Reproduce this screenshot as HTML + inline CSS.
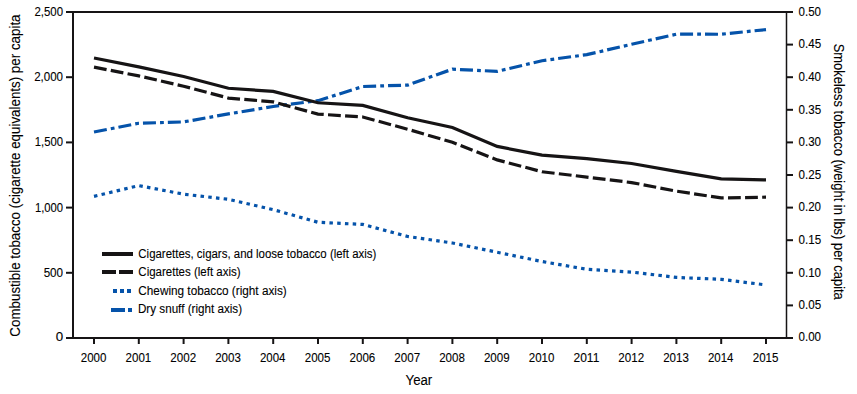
<!DOCTYPE html>
<html><head><meta charset="utf-8"><style>
html,body{margin:0;padding:0;background:#fff;}
svg{display:block;font-family:"Liberation Sans",sans-serif;}
text{fill:#000;stroke:#000;stroke-width:0.1px;}
</style></head><body>
<svg width="857" height="394" viewBox="0 0 857 394">
<line x1="66" y1="12.0" x2="793" y2="12.0" stroke="#161415" stroke-width="2"/>
<line x1="66" y1="338.0" x2="793" y2="338.0" stroke="#161415" stroke-width="2"/>
<line x1="73" y1="12.0" x2="73" y2="338.0" stroke="#161415" stroke-width="2"/>
<line x1="786.5" y1="12.0" x2="786.5" y2="338.0" stroke="#161415" stroke-width="1.5"/>
<line x1="66" y1="338.00" x2="73" y2="338.00" stroke="#161415" stroke-width="2"/>
<line x1="66" y1="272.80" x2="73" y2="272.80" stroke="#161415" stroke-width="2"/>
<line x1="66" y1="207.60" x2="73" y2="207.60" stroke="#161415" stroke-width="2"/>
<line x1="66" y1="142.40" x2="73" y2="142.40" stroke="#161415" stroke-width="2"/>
<line x1="66" y1="77.20" x2="73" y2="77.20" stroke="#161415" stroke-width="2"/>
<line x1="66" y1="12.00" x2="73" y2="12.00" stroke="#161415" stroke-width="2"/>
<line x1="786" y1="338.00" x2="793" y2="338.00" stroke="#161415" stroke-width="2"/>
<line x1="786" y1="305.40" x2="793" y2="305.40" stroke="#161415" stroke-width="2"/>
<line x1="786" y1="272.80" x2="793" y2="272.80" stroke="#161415" stroke-width="2"/>
<line x1="786" y1="240.20" x2="793" y2="240.20" stroke="#161415" stroke-width="2"/>
<line x1="786" y1="207.60" x2="793" y2="207.60" stroke="#161415" stroke-width="2"/>
<line x1="786" y1="175.00" x2="793" y2="175.00" stroke="#161415" stroke-width="2"/>
<line x1="786" y1="142.40" x2="793" y2="142.40" stroke="#161415" stroke-width="2"/>
<line x1="786" y1="109.80" x2="793" y2="109.80" stroke="#161415" stroke-width="2"/>
<line x1="786" y1="77.20" x2="793" y2="77.20" stroke="#161415" stroke-width="2"/>
<line x1="786" y1="44.60" x2="793" y2="44.60" stroke="#161415" stroke-width="2"/>
<line x1="786" y1="12.00" x2="793" y2="12.00" stroke="#161415" stroke-width="2"/>
<line x1="94.00" y1="338.0" x2="94.00" y2="344" stroke="#161415" stroke-width="2"/>
<line x1="138.80" y1="338.0" x2="138.80" y2="344" stroke="#161415" stroke-width="2"/>
<line x1="183.60" y1="338.0" x2="183.60" y2="344" stroke="#161415" stroke-width="2"/>
<line x1="228.40" y1="338.0" x2="228.40" y2="344" stroke="#161415" stroke-width="2"/>
<line x1="273.20" y1="338.0" x2="273.20" y2="344" stroke="#161415" stroke-width="2"/>
<line x1="318.00" y1="338.0" x2="318.00" y2="344" stroke="#161415" stroke-width="2"/>
<line x1="362.80" y1="338.0" x2="362.80" y2="344" stroke="#161415" stroke-width="2"/>
<line x1="407.60" y1="338.0" x2="407.60" y2="344" stroke="#161415" stroke-width="2"/>
<line x1="452.40" y1="338.0" x2="452.40" y2="344" stroke="#161415" stroke-width="2"/>
<line x1="497.20" y1="338.0" x2="497.20" y2="344" stroke="#161415" stroke-width="2"/>
<line x1="542.00" y1="338.0" x2="542.00" y2="344" stroke="#161415" stroke-width="2"/>
<line x1="586.80" y1="338.0" x2="586.80" y2="344" stroke="#161415" stroke-width="2"/>
<line x1="631.60" y1="338.0" x2="631.60" y2="344" stroke="#161415" stroke-width="2"/>
<line x1="676.40" y1="338.0" x2="676.40" y2="344" stroke="#161415" stroke-width="2"/>
<line x1="721.20" y1="338.0" x2="721.20" y2="344" stroke="#161415" stroke-width="2"/>
<line x1="766.00" y1="338.0" x2="766.00" y2="344" stroke="#161415" stroke-width="2"/>
<polyline fill="none" stroke="#0553aa" stroke-width="3.2" stroke-dasharray="3.5 4.265" points="94.00,196.32 138.80,185.63 183.60,194.17 228.40,199.32 273.20,209.62 318.00,222.27 362.80,224.42 407.60,236.48 452.40,243.00 497.20,252.26 542.00,261.52 586.80,269.28 631.60,272.08 676.40,277.43 721.20,279.32 766.00,284.93"/>
<polyline fill="none" stroke="#0553aa" stroke-width="3.2" stroke-dasharray="13 4.1 3.8 4" points="94.00,131.97 138.80,123.23 183.60,121.93 228.40,113.91 273.20,106.47 318.00,100.67 362.80,86.52 407.60,85.09 452.40,69.18 497.20,71.33 542.00,60.70 586.80,54.64 631.60,44.27 676.40,34.17 721.20,34.23 766.00,29.60"/>
<polyline fill="none" stroke="#161415" stroke-width="3.2" points="94.00,58.03 138.80,66.90 183.60,76.55 228.40,88.28 273.20,91.41 318.00,102.76 362.80,105.37 407.60,117.75 452.40,127.53 497.20,146.44 542.00,155.05 586.80,158.70 631.60,163.52 676.40,171.35 721.20,178.91 766.00,179.96"/>
<polyline fill="none" stroke="#161415" stroke-width="3.2" stroke-dasharray="12.8 4.3" points="94.00,67.16 138.80,75.90 183.60,86.20 228.40,98.06 273.20,101.85 318.00,114.10 362.80,116.97 407.60,129.23 452.40,142.27 497.20,159.87 542.00,171.74 586.80,177.09 631.60,182.56 676.40,191.17 721.20,197.95 766.00,197.17"/>
<line x1="102" y1="254" x2="133" y2="254" stroke="#161415" stroke-width="4"/>
<line x1="102" y1="272" x2="133" y2="272" stroke="#161415" stroke-width="4" stroke-dasharray="14 3"/>
<line x1="113" y1="291" x2="132" y2="291" stroke="#0553aa" stroke-width="4" stroke-dasharray="4 3"/>
<line x1="111" y1="310" x2="132" y2="310" stroke="#0553aa" stroke-width="4" stroke-dasharray="14 3 4 3"/>
<text x="55.66" y="341.10" font-size="12.3" textLength="7.42" lengthAdjust="spacingAndGlyphs">0</text>
<text x="43.63" y="276.60" font-size="12.3" textLength="19.47" lengthAdjust="spacingAndGlyphs">500</text>
<text x="34.88" y="211.50" font-size="12.3" textLength="28.16" lengthAdjust="spacingAndGlyphs">1,000</text>
<text x="34.77" y="145.90" font-size="12.3" textLength="28.27" lengthAdjust="spacingAndGlyphs">1,500</text>
<text x="34.14" y="80.80" font-size="12.3" textLength="28.92" lengthAdjust="spacingAndGlyphs">2,000</text>
<text x="34.44" y="16.00" font-size="12.3" textLength="28.60" lengthAdjust="spacingAndGlyphs">2,500</text>
<text x="798.53" y="341.00" font-size="12.3" textLength="22.48" lengthAdjust="spacingAndGlyphs">0.00</text>
<text x="798.53" y="309.20" font-size="12.3" textLength="22.58" lengthAdjust="spacingAndGlyphs">0.05</text>
<text x="798.53" y="276.60" font-size="12.3" textLength="22.48" lengthAdjust="spacingAndGlyphs">0.10</text>
<text x="798.53" y="244.00" font-size="12.3" textLength="22.58" lengthAdjust="spacingAndGlyphs">0.15</text>
<text x="798.53" y="211.40" font-size="12.3" textLength="22.48" lengthAdjust="spacingAndGlyphs">0.20</text>
<text x="798.53" y="178.80" font-size="12.3" textLength="22.58" lengthAdjust="spacingAndGlyphs">0.25</text>
<text x="798.53" y="146.20" font-size="12.3" textLength="22.48" lengthAdjust="spacingAndGlyphs">0.30</text>
<text x="798.53" y="113.60" font-size="12.3" textLength="22.58" lengthAdjust="spacingAndGlyphs">0.35</text>
<text x="798.53" y="81.00" font-size="12.3" textLength="22.48" lengthAdjust="spacingAndGlyphs">0.40</text>
<text x="798.53" y="48.40" font-size="12.3" textLength="22.58" lengthAdjust="spacingAndGlyphs">0.45</text>
<text x="798.53" y="15.80" font-size="12.3" textLength="22.48" lengthAdjust="spacingAndGlyphs">0.50</text>
<text x="80.74" y="361.70" font-size="12.3" textLength="25.60" lengthAdjust="spacingAndGlyphs">2000</text>
<text x="125.54" y="361.70" font-size="12.3" textLength="25.69" lengthAdjust="spacingAndGlyphs">2001</text>
<text x="170.33" y="361.70" font-size="12.3" textLength="25.79" lengthAdjust="spacingAndGlyphs">2002</text>
<text x="215.14" y="361.70" font-size="12.3" textLength="25.69" lengthAdjust="spacingAndGlyphs">2003</text>
<text x="259.94" y="361.70" font-size="12.3" textLength="25.50" lengthAdjust="spacingAndGlyphs">2004</text>
<text x="304.74" y="361.70" font-size="12.3" textLength="25.69" lengthAdjust="spacingAndGlyphs">2005</text>
<text x="349.54" y="361.70" font-size="12.3" textLength="25.69" lengthAdjust="spacingAndGlyphs">2006</text>
<text x="394.33" y="361.70" font-size="12.3" textLength="25.79" lengthAdjust="spacingAndGlyphs">2007</text>
<text x="439.14" y="361.70" font-size="12.3" textLength="25.69" lengthAdjust="spacingAndGlyphs">2008</text>
<text x="483.94" y="361.70" font-size="12.3" textLength="25.69" lengthAdjust="spacingAndGlyphs">2009</text>
<text x="528.74" y="361.70" font-size="12.3" textLength="25.60" lengthAdjust="spacingAndGlyphs">2010</text>
<text x="573.51" y="361.70" font-size="12.3" textLength="25.82" lengthAdjust="spacingAndGlyphs">2011</text>
<text x="618.33" y="361.70" font-size="12.3" textLength="25.79" lengthAdjust="spacingAndGlyphs">2012</text>
<text x="663.14" y="361.70" font-size="12.3" textLength="25.69" lengthAdjust="spacingAndGlyphs">2013</text>
<text x="707.94" y="361.70" font-size="12.3" textLength="25.50" lengthAdjust="spacingAndGlyphs">2014</text>
<text x="752.74" y="361.70" font-size="12.3" textLength="25.69" lengthAdjust="spacingAndGlyphs">2015</text>
<text x="405.62" y="384.80" font-size="14" textLength="26.66" lengthAdjust="spacingAndGlyphs">Year</text>
<text x="138.34" y="257.70" font-size="12.3" textLength="237.99" lengthAdjust="spacingAndGlyphs">Cigarettes, cigars, and loose tobacco (left axis)</text>
<text x="138.34" y="276.00" font-size="12.3" textLength="102.28" lengthAdjust="spacingAndGlyphs">Cigarettes (left axis)</text>
<text x="138.33" y="294.90" font-size="12.3" textLength="148.43" lengthAdjust="spacingAndGlyphs">Chewing tobacco (right axis)</text>
<text x="137.95" y="313.00" font-size="12.3" textLength="104.13" lengthAdjust="spacingAndGlyphs">Dry snuff (right axis)</text>
<text transform="translate(19.6,336.67) rotate(-90)" font-size="14" textLength="322.20" lengthAdjust="spacingAndGlyphs">Combustible tobacco (cigarette equivalents) per capita</text>
<text transform="translate(833.6,43.65) rotate(90)" font-size="14" textLength="256.17" lengthAdjust="spacingAndGlyphs">Smokeless tobacco (weight in lbs) per capita</text>
</svg>
</body></html>
